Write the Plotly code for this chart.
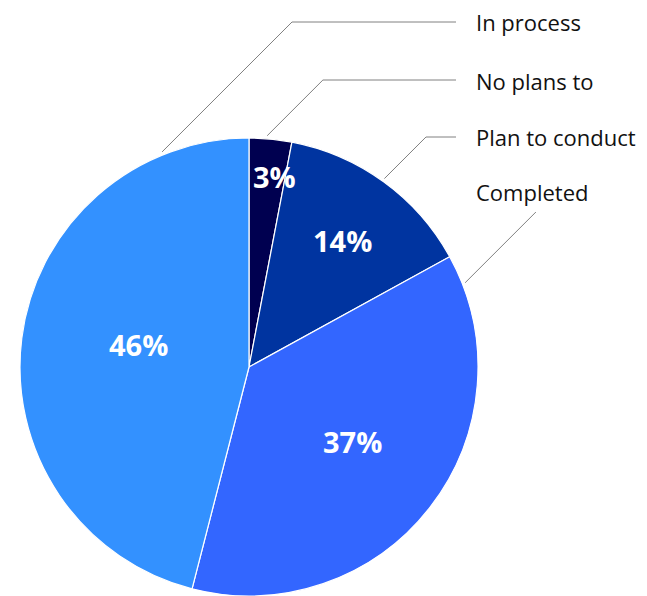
import math
import plotly.graph_objects as go

# ---- data ----
categories = ["No plans to", "Plan to conduct", "Completed", "In process"]
values = [3, 14, 37, 46]
colors = ["#000050", "#0034A0", "#3366FF", "#3391FF"]

# ---- label layout (positions of the outside labels, in screen px from top) ----
label_order = ["In process", "No plans to", "Plan to conduct", "Completed"]
label_line_y = [22, 80, 137, 212]          # y where the leader line ends
label_text_y = [22, 81, 137, 192]
label_anchor_angle = [338.0, 4.5, 35.7, 68.7]  # deg clockwise from 12 o'clock
label_has_horizontal = [True, True, True, False]

# ---- inside percentage label placement (per slice, same order as categories) ----
pct_frac_in_slice = [0.70, 0.52, 0.49, 0.52]   # angular position within the slice
pct_radius_frac = [0.83, 0.68, 0.56, 0.49]     # radial position (fraction of R)

W, H = 647, 596
OFF = 8  # page body margin
cx, cy, R = 249, 367, 229
line_end_x = 456
text_x = 475

fig = go.Figure()
fig.add_trace(go.Pie(
    labels=categories,
    values=values,
    sort=False,
    direction="clockwise",
    rotation=0,
    marker=dict(colors=colors, line=dict(color="white", width=1.2)),
    textinfo="none",
    hoverinfo="label+percent",
    showlegend=False,
    domain=dict(x=[(cx - R - OFF) / W, (cx + R - OFF) / W],
                y=[1 - (cy + R - OFF) / H, 1 - (cy - R - OFF) / H]),
))

def px2paper(x, y):
    return (x - OFF) / W, 1 - (y - OFF) / H

shapes = []
annotations = []

# percentage labels derived from the values
total = sum(values)
start = 0.0
for v, fr, rf in zip(values, pct_frac_in_slice, pct_radius_frac):
    span = v / total * 360.0
    ang = math.radians(start + fr * span)
    start += span
    px = cx + rf * R * math.sin(ang)
    py = cy - rf * R * math.cos(ang)
    x, y = px2paper(px, py)
    annotations.append(dict(x=x, y=y, xref="paper", yref="paper",
                            text=f"{round(v / total * 100)}%", showarrow=False,
                            xanchor="center", yanchor="middle", yshift=2,
                            font=dict(family="Open Sans", size=29, color="white",
                                      weight="bold")))

# outside labels with elbow leader lines
for name, ly, ty, ang, horiz in zip(label_order, label_line_y, label_text_y,
                                    label_anchor_angle, label_has_horizontal):
    a = math.radians(ang)
    ax = cx + (R + 3) * math.sin(a)
    ay = cy - (R + 3) * math.cos(a)
    d = ay - ly
    ex, ey = ax + d, ly
    pts = [(ax, ay), (ex, ey)]
    if horiz:
        pts.append((line_end_x, ly))
    path = "M " + " L ".join(f"{px2paper(x, y)[0]},{px2paper(x, y)[1]}" for x, y in pts)
    shapes.append(dict(type="path", xref="paper", yref="paper", path=path,
                       line=dict(color="#808080", width=1)))
    tx, tyy = px2paper(text_x, ty)
    annotations.append(dict(x=tx, y=tyy, xref="paper", yref="paper", text=name,
                            showarrow=False, xanchor="left", yanchor="middle",
                            borderpad=0,
                            font=dict(family="Open Sans", size=22, color="#111111")))

fig.update_layout(
    width=W, height=H,
    margin=dict(l=0, r=0, t=0, b=0),
    paper_bgcolor="white",
    plot_bgcolor="white",
    shapes=shapes,
    annotations=annotations,
)

fig.write_html("out.html")
